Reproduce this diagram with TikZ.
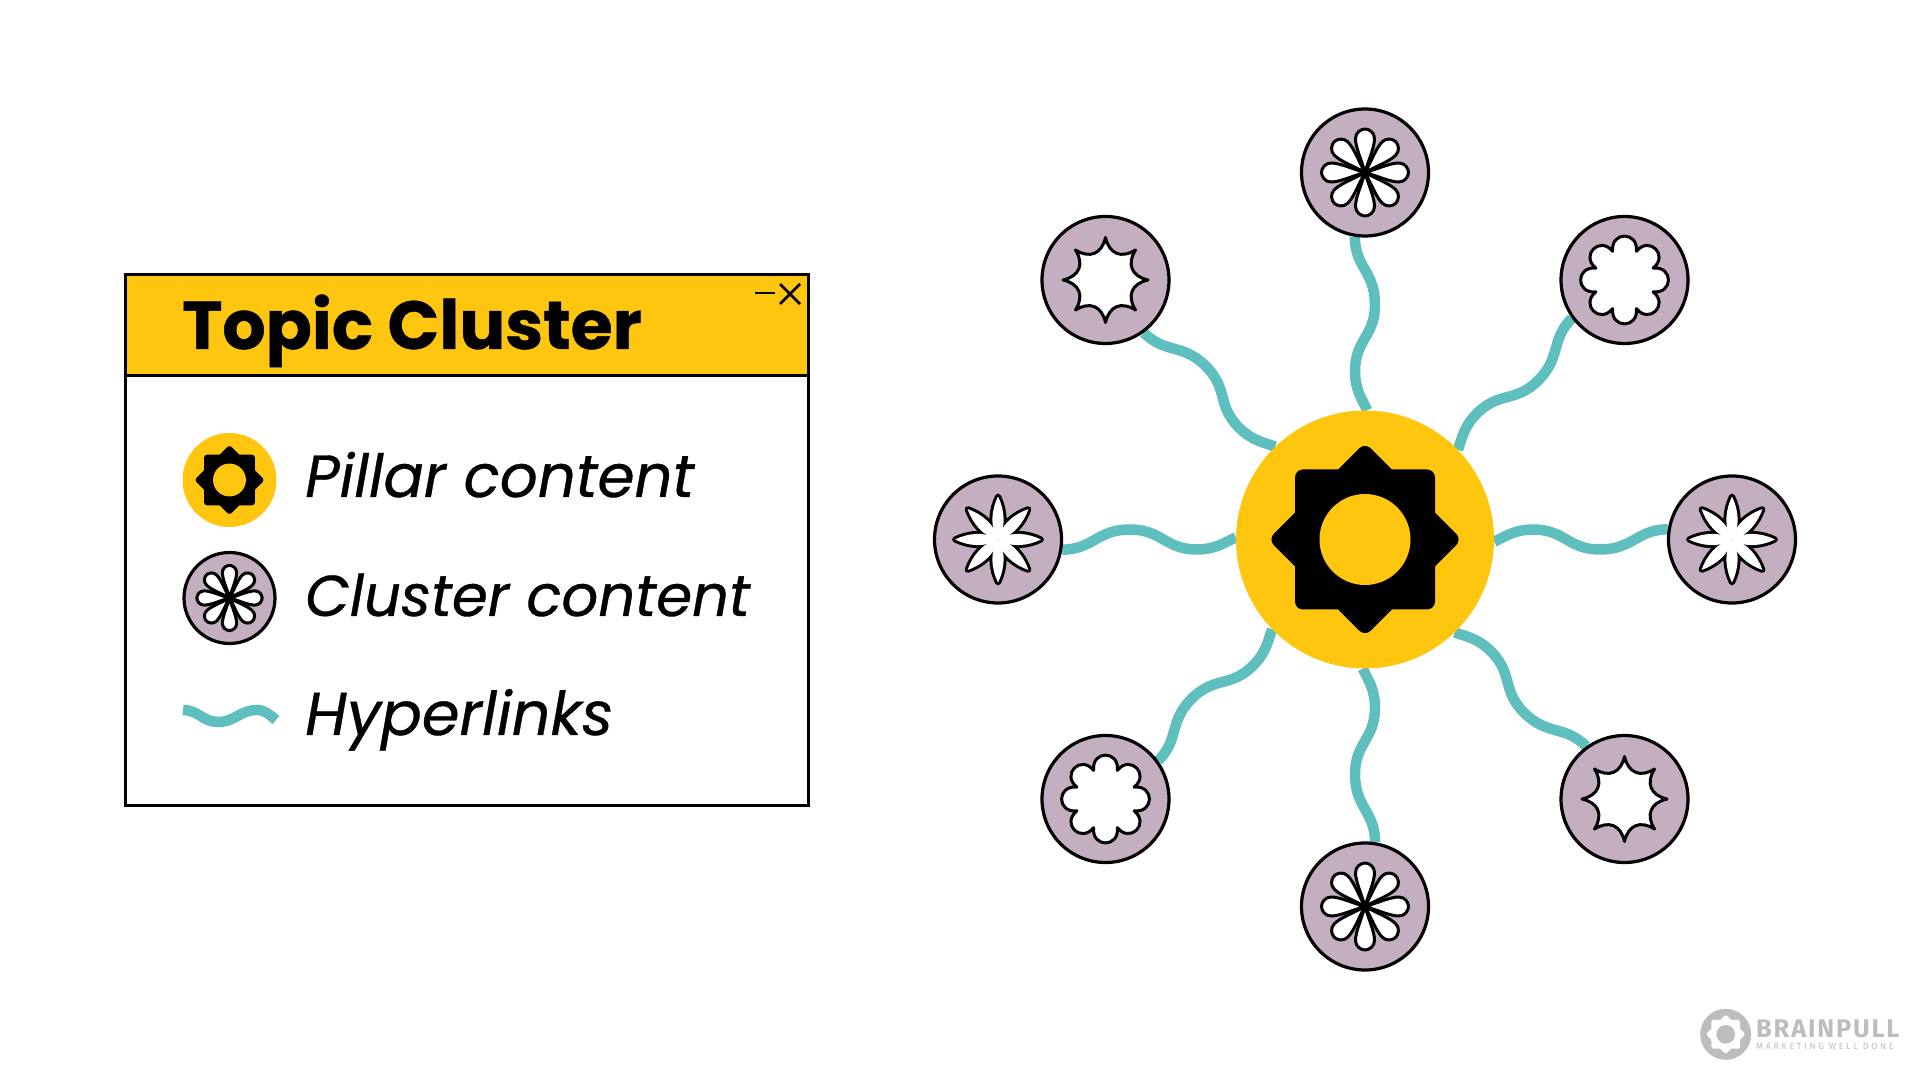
\documentclass[tikz,border=0pt]{standalone}
\usepackage{fontspec}
\setmainfont{Poppins}
\newfontfamily\titlefont[BoldFeatures={FakeBold=0.7}]{Poppins}
\newfontfamily\legendfont[ItalicFeatures={FakeBold=0.6}]{Poppins}
\newfontfamily\logofont[LetterSpace=7]{Fira Sans}
\newfontfamily\taglinefont[LetterSpace=29]{Fira Sans}
\usetikzlibrary{backgrounds}
\definecolor{pillaryellow}{HTML}{FFC60F}
\definecolor{clustermauve}{HTML}{C4AFC1}
\definecolor{linkteal}{HTML}{5FBFBF}
\definecolor{logogrey}{HTML}{BDBDBD}
\colorlet{gearcolor}{black}
\colorlet{corecolor}{pillaryellow}
\tikzset{
  x=1pt, y=1pt,
  pillar/.style={circle, fill=pillaryellow, inner sep=0pt},
  cluster/.style={circle, draw=black, line width=3.2pt, fill=clustermauve, inner sep=0pt},
  hyperlink/.style={draw=linkteal, line width=10.5pt},
  petal/.style={draw=black, fill=white, line width=3pt, line join=round},
  label/.style={anchor=base west, inner sep=0pt, font=\fontsize{#1}{62}\selectfont\legendfont\itshape},
  gear/.pic={
    \begin{scope}[scale=#1]
      \fill[gearcolor, rounded corners=#1*8pt] (-70,-70) rectangle (70,70);
      \fill[gearcolor, rounded corners=#1*8pt, rotate=45] (-68.5,-68.5) rectangle (68.5,68.5);
      \fill[corecolor] (0,0) circle (45.5);
    \end{scope}
  },
  flower/.pic={
    \begin{scope}[scale=#1]
      \foreach \r in {0,45,...,315}
        \draw[petal, rotate=\r] (0,0) .. controls (14,4) and (25,9.5) .. (34,9.5) .. controls (40,9.5) and (43.5,4) .. (43.5,0) .. controls (43.5,-4) and (40,-9.5) .. (34,-9.5) .. controls (25,-9.5) and (14,-4) .. (0,0);
    \end{scope}
  },
  lens/.pic={
    \begin{scope}[scale=#1]
      \foreach \r in {0,45,...,315}
        \draw[petal, line width=6pt, rotate=\r] (0,0) .. controls (12,8.5) and (30,6.5) .. (43,0) .. controls (30,-6.5) and (12,-8.5) .. (0,0);
      \foreach \r in {0,45,...,315}
        \fill[white, rotate=\r] (0,0) .. controls (12,8.5) and (30,6.5) .. (43,0) .. controls (30,-6.5) and (12,-8.5) .. (0,0);
    \end{scope}
  },
  spiky/.pic={
    \begin{scope}[scale=#1]
      \draw[petal] (0:42.5) \foreach \r in {0,45,...,315} { .. controls (\r+8:26.3) and (\r+37:26.3) .. (\r+45:42.5) } -- cycle;
    \end{scope}
  },
  cloud/.pic={
    \begin{scope}[scale=#1]
      \draw[petal] (-22.5:31) \foreach \r in {0,45,...,315} { .. controls (\r-16:51) and (\r+16:51) .. (\r+22.5:31) } -- cycle;
    \end{scope}
  }
}

\begin{document}
\begin{tikzpicture}
  \useasboundingbox (0,0) rectangle (1920,1080);

  % Window
  \node (window) [draw=black, line width=3pt, fill=white, minimum width=683pt, minimum height=530pt] at (466.5,540) {};
  \node (header) [draw=black, line width=3pt, fill=pillaryellow, minimum width=683pt, minimum height=101pt] at (466.5,755) {};
  \node (title) [anchor=base west, inner sep=0pt, font=\fontsize{68}{72}\selectfont\titlefont\bfseries] at (182,731) {Topic Cluster};
  \coordinate (minusL) at (755,787);
  \coordinate (minusR) at (775,787);
  \coordinate (crossA) at (780,796);
  \coordinate (crossB) at (800,776);
  \coordinate (crossC) at (780,776);
  \coordinate (crossD) at (800,796);
  \draw[line width=2.8pt] (minusL) -- (minusR);
  \draw[line width=2.8pt] (crossA) -- (crossB);
  \draw[line width=2.8pt] (crossC) -- (crossD);

  % Legend
  \node (iconPillar) [pillar, minimum size=94pt] at (229.5,600) {};
  \pic at (iconPillar) {gear=0.362};
  \node (iconCluster) [cluster, minimum size=91pt] at (229.5,482) {};
  \pic at (iconCluster) {flower=0.75};
  \coordinate (waveL) at (183,370);
  \coordinate (waveR) at (276,360);
  \draw[hyperlink] (waveL) .. controls (198,370) and (203,358) .. (218,358) .. controls (235,358) and (240,370) .. (257,370) .. controls (265,370) and (270,365) .. (waveR);
  \node (labelPillar) [label=59.5] at (305,583) {Pillar content};
  \node (labelCluster) [label=57.7] at (305,464) {Cluster content};
  \node (labelLinks) [label=60.5] at (305,345) {Hyperlinks};

  % Nodes
  \node (hub) [pillar, minimum size=258pt] at (1365,540.5) {};
  \pic at (hub) {gear=1};
  \foreach \i/\a in {1/0,2/45,3/90,4/135,5/180,6/225,7/270,8/315}
    \node (sat\i) [cluster, minimum size=127pt] at ([shift={(\a:367)}]hub.center) {};
  \pic at (sat1) {lens=1};
  \pic at (sat2) {cloud=1};
  \pic at (sat3) {flower=1};
  \pic at (sat4) {spiky=1};
  \pic at (sat5) {lens=1};
  \pic at (sat6) {cloud=1};
  \pic at (sat7) {flower=1};
  \pic at (sat8) {spiky=1};

  % Edges
  \begin{pgfonlayer}{background}
    \foreach \i/\a [evaluate=\a as \b using \a+171, evaluate=\a as \c using \a-1] in {1/0,2/45,3/90,4/135,5/180,6/225,7/270,8/315}
      \draw[hyperlink, shift={(hub.center)}, rotate=\a] (hub.\c) .. controls (140,3) and (150,10) .. (168,10) .. controls (200,10) and (203,-10) .. (235,-10) .. controls (268,-10) and (272,10) .. (sat\i.\b);
  \end{pgfonlayer}

  % Logo
  \node (logoDisc) [circle, fill=logogrey, inner sep=0pt, minimum size=51pt] at (1725.7,45.7) {};
  \begin{scope}
    \colorlet{gearcolor}{white}
    \colorlet{corecolor}{logogrey}
    \pic at (logoDisc) {gear=0.205};
  \end{scope}
  \node (logoName) [anchor=base west, inner sep=0pt, text=logogrey, font=\fontsize{25.5}{26}\selectfont\logofont\bfseries] at (1756,43) {BRAINPULL};
  \node (logoLine) [anchor=base west, inner sep=0pt, text=logogrey, font=\fontsize{9}{10}\selectfont\taglinefont] at (1756,30.7) {MARKETING WELL DONE};
\end{tikzpicture}
\end{document}
